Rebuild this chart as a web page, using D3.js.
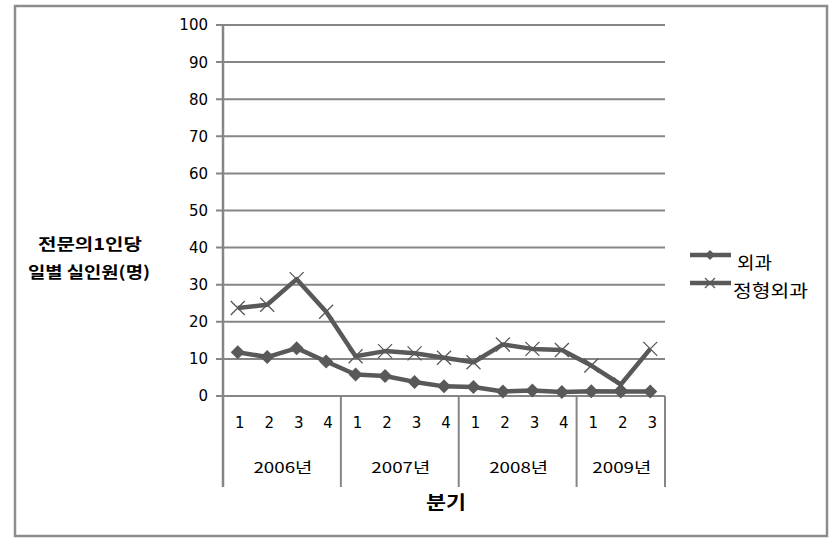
<!DOCTYPE html>
<html><head><meta charset="utf-8">
<script src="https://cdn.jsdelivr.net/npm/d3@7"></script>
<style>body{margin:0;background:#fff;} svg{display:block;}</style>
</head><body>
<svg id="c" width="839" height="545"></svg>
<script>
const quarters = ["1","2","3","4","1","2","3","4","1","2","3","4","1","2","3"];
const years = ["2006년","2007년","2008년","2009년"];
const yearCounts = [4,4,4,3];
const surgery = [11.8,10.5,12.9,9.3,5.8,5.4,3.8,2.6,2.4,1.2,1.5,1.1,1.25,1.2,1.2];
const ortho = [23.7,24.6,31.5,22.7,10.7,12.1,11.5,10.3,9.1,13.9,12.7,12.4,8.2,3.1,12.7];
const seriesNames = ["외과","정형외과"];
const yTicks = [0,10,20,30,40,50,60,70,80,90,100];

const svg = d3.select("#c");
const kr = "'Noto Sans CJK KR','Noto Sans',sans-serif";
const num = "'DejaVu Sans',Verdana,sans-serif";
const lineCol = "#595959", gridCol = "#868686";

// outer frame
svg.append("rect").attr("x",15).attr("y",6).attr("width",812).attr("height",530)
  .attr("fill","none").attr("stroke","#8c8c8c").attr("stroke-width",2.5);

const L=223, R=665, T=25, B=396, Bcat=487;
const x = d3.scaleBand().domain(d3.range(quarters.length)).range([L,R]).padding(0);
const y = d3.scaleLinear().domain([0,100]).range([B,T]);

// gridlines
svg.append("g").selectAll("line").data(yTicks).join("line")
  .attr("x1",L-7).attr("x2",R).attr("y1",d=>y(d)).attr("y2",d=>y(d))
  .attr("stroke",gridCol).attr("stroke-width",2);
// y axis
svg.append("line").attr("x1",L).attr("x2",L).attr("y1",T).attr("y2",Bcat)
  .attr("stroke",gridCol).attr("stroke-width",2.5);
// y labels
svg.append("g").selectAll("text").data(yTicks).join("text")
  .attr("x",208).attr("y",d=>y(d)).attr("dy","0.36em").attr("text-anchor","end")
  .attr("font-family",num).attr("font-size",15).attr("fill","#000").text(d=>d);

// year separators
let cum=[0]; yearCounts.forEach((c,i)=>cum.push(cum[i]+c));
cum.slice(1).forEach(ci=>{
  const xx = ci>=quarters.length ? R : x(ci);
  svg.append("line").attr("x1",xx).attr("x2",xx).attr("y1",B).attr("y2",Bcat)
    .attr("stroke",gridCol).attr("stroke-width",2);
});
// quarter labels
svg.append("g").selectAll("text").data(quarters).join("text")
  .attr("x",(d,i)=>x(i)+x.bandwidth()/2+2).attr("y",423).attr("dy","0.36em").attr("text-anchor","middle")
  .attr("font-family",num).attr("font-size",15).text(d=>d);
// year labels
svg.append("g").selectAll("text").data(years).join("text")
  .attr("x",(d,i)=>{const a=x(cum[i]); const b=cum[i+1]>=quarters.length?R:x(cum[i+1]); return (a+b)/2+1;})
  .attr("y",468).attr("dy","0.36em").attr("text-anchor","middle")
  .attr("font-family",kr).attr("font-size",15).attr("textLength",59).attr("lengthAdjust","spacingAndGlyphs").text(d=>d);

// axis titles
svg.append("text").attr("x",446).attr("y",503).attr("dy","0.36em").attr("text-anchor","middle")
  .attr("font-family",kr).attr("font-size",18).attr("font-weight","bold")
  .attr("textLength",40).attr("lengthAdjust","spacingAndGlyphs").text("분기");
svg.append("text").attr("x",90).attr("y",244).attr("dy","0.36em").attr("text-anchor","middle")
  .attr("font-family",kr).attr("font-size",16).attr("font-weight","bold")
  .attr("textLength",104).attr("lengthAdjust","spacingAndGlyphs").text("전문의1인당");
svg.append("text").attr("x",89).attr("y",272).attr("dy","0.36em").attr("text-anchor","middle")
  .attr("font-family",kr).attr("font-size",16).attr("font-weight","bold")
  .attr("textLength",122).attr("lengthAdjust","spacingAndGlyphs").text("일별 실인원(명)");

const line = d3.line().x((d,i)=>x(i)+x.bandwidth()/2).y(d=>y(d));
// ortho line
svg.append("path").datum(ortho).attr("d",line).attr("fill","none").attr("stroke",lineCol)
  .attr("stroke-width",4.5).attr("stroke-linejoin","round");
svg.append("g").selectAll("path").data(ortho).join("path")
  .attr("transform",(d,i)=>`translate(${x(i)+x.bandwidth()/2},${y(d)})`)
  .attr("d","M-7,-7L7,7M-7,7L7,-7").attr("stroke",lineCol).attr("stroke-width",1.3);
// surgery line
svg.append("path").datum(surgery).attr("d",line).attr("fill","none").attr("stroke",lineCol)
  .attr("stroke-width",4.5).attr("stroke-linejoin","round");
svg.append("g").selectAll("path").data(surgery).join("path")
  .attr("transform",(d,i)=>`translate(${x(i)+x.bandwidth()/2},${y(d)})`)
  .attr("d","M0,-7L7,0L0,7L-7,0Z").attr("fill",lineCol);

// legend
const lg = svg.append("g");
const legY=[255,283], legTX=[737,733], legTL=[35,75];
legY.forEach((ly,k)=>{
  lg.append("line").attr("x1",690).attr("x2",731).attr("y1",ly).attr("y2",ly).attr("stroke",lineCol).attr("stroke-width",4.5);
  if(k===0) lg.append("path").attr("transform",`translate(710,${ly})`).attr("d","M0,-5L5,0L0,5L-5,0Z").attr("fill",lineCol);
  else lg.append("path").attr("transform",`translate(710,${ly})`).attr("d","M-5,-5L5,5M-5,5L5,-5").attr("stroke",lineCol).attr("stroke-width",1.3);
  lg.append("text").attr("x",legTX[k]).attr("y",ly+8).attr("dy","0.36em")
    .attr("font-family",kr).attr("font-size",17).attr("textLength",legTL[k]).attr("lengthAdjust","spacingAndGlyphs").text(seriesNames[k]);
});
</script>
</body></html>
